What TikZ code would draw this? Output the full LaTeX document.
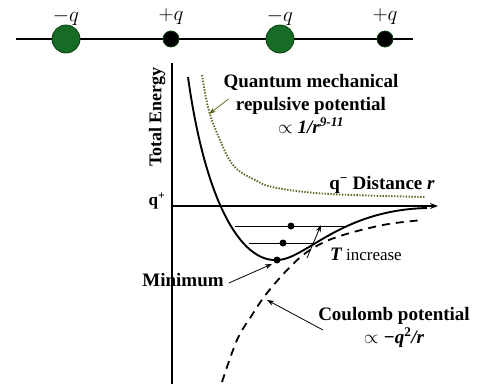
\RequirePackage{fix-cm}
\documentclass[tikz,border=0pt]{standalone}
\usepackage{fontspec}
\setmainfont{Liberation Serif}
\usepackage{tikz}
\usetikzlibrary{arrows.meta, positioning}
\definecolor{iongreen}{RGB}{22,108,36}
\definecolor{iondark}{RGB}{12,62,18}
\definecolor{olivedot}{RGB}{92,104,36}
\tikzstyle{anion} = [circle,
minimum size=28pt,
inner sep=0pt,
draw=iondark, line width=0.8pt,
fill=iongreen]
\tikzstyle{cation} = [circle,
minimum size=16pt,
inner sep=0pt,
draw=iondark, line width=0.8pt,
fill=black]
\tikzstyle{charge} = [font=\fontsize{21}{24}\selectfont, inner sep=0pt]
\tikzstyle{boldlabel} = [font=\fontsize{19}{23}\selectfont\bfseries, align=center, inner sep=0pt]
\tikzstyle{axis} = [line width=1.1pt]
\tikzstyle{potential} = [line width=1.9pt]
\tikzstyle{coulomb} = [line width=1.8pt, dash pattern=on 8pt off 6pt]
\tikzstyle{repulsive} = [olivedot, line width=1.9pt, dash pattern=on 1.4pt off 1.5pt]
\tikzstyle{level} = [line width=0.9pt]
\tikzstyle{state} = [circle, fill=black, minimum size=7pt, inner sep=0pt]
\tikzstyle{pointer} = [line width=0.8pt, -{Stealth[length=7pt,width=5pt]}]

\begin{document}
\begin{tikzpicture}[x=1pt, y=-1pt]
                \useasboundingbox (0,0) rectangle (477,384);

                % chain of charges
                \coordinate (chainw) at (16,39);
                \coordinate (chaine) at (413,39);
                \draw[axis] (chainw) -- (chaine);
                \node (ion1) [anion] at (66,39) {};
                \node (ion2) [cation] at (171,39) {};
                \node (ion3) [anion] at (280,39) {};
                \node (ion4) [cation] at (385,39) {};
                \node (sign1) [charge] at (66,17) {$-q$};
                \node (sign2) [charge] at (171,17) {$+q$};
                \node (sign3) [charge] at (280,17) {$-q$};
                \node (sign4) [charge] at (385,17) {$+q$};

                % axes
                \coordinate (origin) at (172,206);
                \coordinate (ytop) at (172,63);
                \coordinate (ybot) at (172,384);
                \coordinate (xend) at (438,206);
                \draw[axis] (ytop) -- (ybot);
                \draw[axis, -{Stealth[length=8pt,width=6pt]}] (origin) -- (xend);
                \node (energy) [boldlabel, rotate=90, font=\fontsize{18}{20}\selectfont\bfseries] at (157,117) {Total Energy};
                \node (qplus) [boldlabel, font=\fontsize{17}{20}\selectfont\bfseries] at (157,201) {q\textsuperscript{+}};
                \node (distance) [boldlabel] at (382,185) {q\textsuperscript{−} Distance \textit{r}};

                % curves
                \draw[repulsive] plot[smooth, tension=0.6] coordinates {(202,75) (208,107) (217,133) (233,165) (255,180) (277,188) (330,194) (425,197)};
                \draw[coulomb] plot[smooth, tension=0.6] coordinates {(222,382) (237,340) (252,315) (267,293) (290,267) (310,250) (337,237) (383,225) (423,220)};
                \draw[potential] (188,77) .. controls (205,200) and (240,262) .. (277,260)
                                 .. controls (305,260) and (340,210) .. (427,208);

                % vibrational levels
                \coordinate (lev1w) at (235,226);
                \coordinate (lev1e) at (347,226);
                \coordinate (lev2w) at (249,243);
                \coordinate (lev2e) at (313,243);
                \draw[level] (lev1w) -- (lev1e);
                \draw[level] (lev2w) -- (lev2e);
                \node (dot1) [state] at (291,226) {};
                \node (dot2) [state] at (283,243) {};
                \node (dot3) [state] at (277,260) {};
                \coordinate (tlow) at (307,258);
                \coordinate (thigh) at (321,225);
                \draw[pointer] (tlow) -- (thigh);
                \node (tinc) [inner sep=0pt, font=\fontsize{17}{20}\selectfont] at (366,254) {{\fontsize{19}{20}\selectfont\bfseries\itshape T} increase};

                % labels with pointers
                \node (quantum) [boldlabel] at (311,104) {Quantum mechanical\\repulsive potential\\{\mdseries$\propto$} \textit{1/r}\textsuperscript{\textit{9-11}}};
                \node (minimum) [boldlabel] at (183,280) {Minimum};
                \node (coulombtxt) [boldlabel] at (394,327) {Coulomb potential\\{\mdseries$\propto$} \textit{−q}\textsuperscript{2}\textit{/r}};
                \coordinate (qtip) at (209,114);
                \coordinate (mtip) at (272,264);
                \coordinate (ctip) at (267,300);
                \draw[pointer, olivedot] ([xshift=5pt, yshift=5pt]quantum.west) -- (qtip);
                \draw[pointer] ([xshift=5pt, yshift=-3pt]minimum.east) -- (mtip);
                \draw[pointer] ([xshift=5pt, yshift=-3pt]coulombtxt.west) -- (ctip);
            \end{tikzpicture}
\end{document}
